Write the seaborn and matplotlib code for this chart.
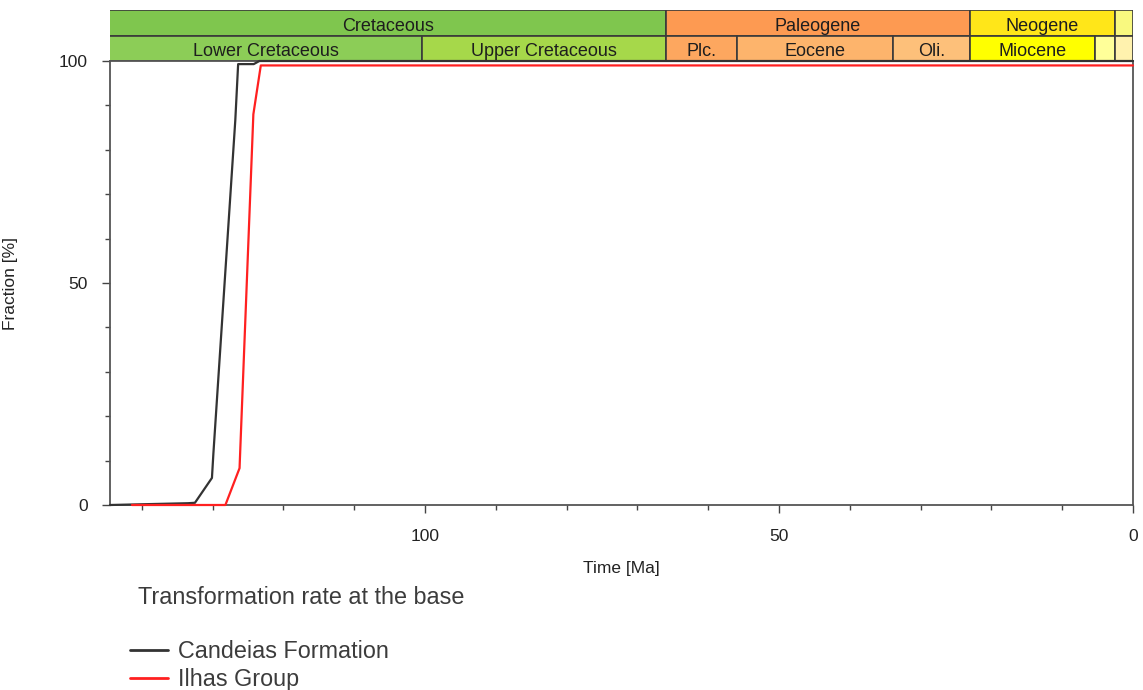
import matplotlib
matplotlib.use("Agg")
import matplotlib.pyplot as plt
from matplotlib.ticker import MultipleLocator, FixedLocator
import pandas as pd
import seaborn as sns

# Transformation ratio histories at the base of each unit (time in Ma, fraction in %)
candeias_time = [144.5, 133.5, 132.5, 130.1, 129.9, 126.8, 126.4, 124.2, 123.4, 0.0]
candeias_frac = [0.0, 0.4, 0.5, 6.1, 11.5, 86.7, 99.3, 99.3, 100.0, 100.0]
ilhas_time = [141.4, 128.2, 126.2, 126.1, 124.25, 123.2, 0.0]
ilhas_frac = [0.0, 0.0, 8.3, 12.4, 88.0, 99.0, 99.0]

series_names = ["Candeias Formation", "Ilhas Group"]
series_colors = ["#333333", "#ff2020"]

# Geologic time scale (ages in Ma)
period_names = ["Cretaceous", "Paleogene", "Neogene", ""]
period_base = [145.0, 66.0, 23.03, 2.58]
period_top = [66.0, 23.03, 2.58, 0.0]
period_colors = ["#7FC64E", "#FD9A52", "#FFE619", "#F9F97F"]

epoch_names = ["Lower Cretaceous", "Upper Cretaceous", "Plc.", "Eocene", "Oli.",
               "Miocene", "", ""]
epoch_base = [145.0, 100.5, 66.0, 56.0, 33.9, 23.03, 5.333, 2.58]
epoch_top = [100.5, 66.0, 56.0, 33.9, 23.03, 5.333, 2.58, 0.0]
epoch_colors = ["#8CCD57", "#A6D84A", "#FDA75F", "#FDB46C", "#FDC07A",
                "#FFFF00", "#FFFF99", "#FFF2AE"]

x_tick_labels = ["100", "50", "0"]
y_tick_labels = ["0", "50", "100"]

sns.set_theme(style="white")
plt.rcParams["font.family"] = ["Liberation Sans", "DejaVu Sans"]

W, H = 1143, 690
fig = plt.figure(figsize=(W / 100, H / 100), dpi=100, facecolor="white")

x_max = 144.5

ax = fig.add_axes([110 / W, 1 - 505 / H, 1023 / W, 444 / H])

df = pd.concat([
    pd.DataFrame({"Time": candeias_time, "Fraction": candeias_frac, "Unit": series_names[0]}),
    pd.DataFrame({"Time": ilhas_time, "Fraction": ilhas_frac, "Unit": series_names[1]}),
], ignore_index=True)

sns.lineplot(data=df, x="Time", y="Fraction", hue="Unit",
             palette=dict(zip(series_names, series_colors)),
             sort=False, estimator=None, linewidth=1.6, ax=ax)
for line in ax.get_lines():
    line.set_clip_on(False)
    line.set_zorder(3)

ax.set_xlim(x_max, 0)
ax.set_ylim(0, 100)
ax.xaxis.set_major_locator(FixedLocator([float(t) for t in x_tick_labels]))
ax.xaxis.set_minor_locator(MultipleLocator(10))
ax.set_xticklabels(x_tick_labels)
ax.yaxis.set_major_locator(FixedLocator([float(t) for t in y_tick_labels]))
ax.yaxis.set_minor_locator(MultipleLocator(10))
ax.set_yticklabels(y_tick_labels)

ax.tick_params(which="both", direction="out", color="#444444", width=1.0,
               labelsize=12.5, labelcolor="#222222")
ax.tick_params(which="major", length=6)
ax.tick_params(which="minor", length=3.5)
ax.tick_params(axis="x", which="both", bottom=True, pad=11)
ax.tick_params(axis="y", which="both", left=True, pad=10)

for side in ["left", "bottom", "right", "top"]:
    ax.spines[side].set_visible(True)
    ax.spines[side].set_color("#555555")
    ax.spines[side].set_linewidth(1.3)
    ax.spines[side].set_zorder(2)

ax.set_xlabel("Time [Ma]", fontsize=12.5, color="#222222")
ax.set_ylabel("Fraction [%]", fontsize=12.5, color="#222222")
ax.xaxis.set_label_coords(0.5, -0.126)
ax.yaxis.set_label_coords(-0.09, 0.5)
ax.grid(False)

# Stratigraphic strip above the plot
axb = fig.add_axes([110 / W, 1 - 61 / H, 1023 / W, 51 / H])
axb.set_xlim(x_max, 0)
axb.set_ylim(0, 2)
axb.axis("off")
axb.set_zorder(0)
ax.set_zorder(1)
ax.patch.set_alpha(0)

axb.barh(y=1, width=[b - t for b, t in zip(period_base, period_top)], left=period_top,
         height=1, align="edge", color=period_colors, edgecolor="#3a3a3a", linewidth=1.2)
axb.barh(y=0, width=[b - t for b, t in zip(epoch_base, epoch_top)], left=epoch_top,
         height=1, align="edge", color=epoch_colors, edgecolor="#3a3a3a", linewidth=1.2)

for name, b, t in zip(period_names, period_base, period_top):
    if name:
        axb.text((min(b, x_max) + t) / 2, 1.37, name, ha="center", va="center",
                 fontsize=13, color="#1e1e1e")
for name, b, t in zip(epoch_names, epoch_base, epoch_top):
    if name:
        axb.text((min(b, x_max) + t) / 2, 0.37, name, ha="center", va="center",
                 fontsize=13, color="#1e1e1e")

# Legend below the plot
handles, labels = ax.get_legend_handles_labels()
if ax.get_legend() is not None:
    ax.get_legend().remove()
for h in handles:
    h.set_linewidth(2.0)

fig.text(138 / W, 1 - 598 / H, "Transformation rate at the base", ha="left", va="center",
         fontsize=16.8, color="#3c3c3c")
fig.legend(handles, labels, loc="upper left", bbox_to_anchor=(130 / W, 1 - 640 / H),
           bbox_transform=fig.transFigure, frameon=False, fontsize=16.8,
           handlelength=1.62, handletextpad=0.43, labelspacing=0.2,
           borderpad=0, borderaxespad=0, labelcolor="#3c3c3c")

fig.savefig("out.png", dpi=100, facecolor="white")
